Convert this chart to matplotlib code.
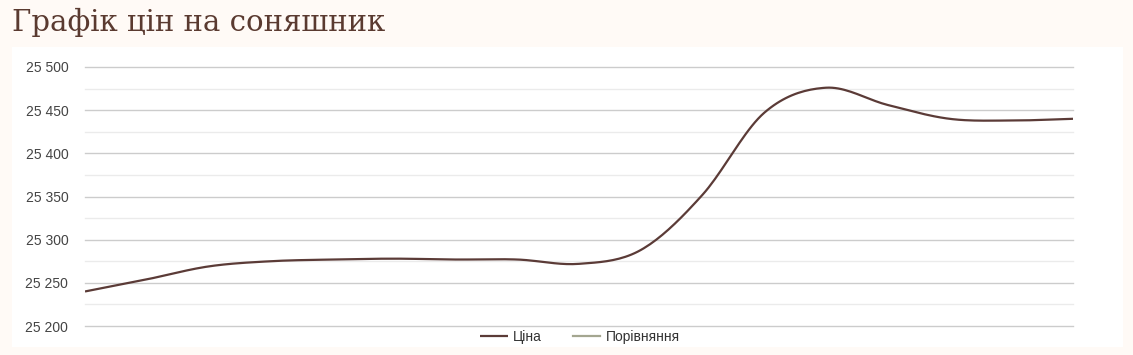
import matplotlib.pyplot as plt
from matplotlib.patches import Rectangle
from matplotlib.ticker import FuncFormatter, MultipleLocator
import numpy as np

# price points (evenly spaced dates)
price = [25240, 25254, 25269, 25275, 25277, 25278, 25277, 25277, 25272,
         25288, 25352, 25447, 25476, 25456, 25440, 25438, 25440]
y_ticks = [25200, 25250, 25300, 25350, 25400, 25450, 25500]
labels = ['Ціна', 'Порівняння']

LINE_COLOR = '#5b3b37'
CMP_COLOR = '#a4a690'
BG = '#fffaf6'


def smooth(values, steps=20):
    '''Catmull-Rom curve through the points, like the chart's "function" curve'''
    p = np.asarray(values, dtype=float)
    p = np.concatenate([[2 * p[0] - p[1]], p, [2 * p[-1] - p[-2]]])
    xs, ys = [], []
    t = np.linspace(0, 1, steps, endpoint=False)
    for i in range(1, len(p) - 2):
        p0, p1, p2, p3 = p[i - 1], p[i], p[i + 1], p[i + 2]
        y = 0.5 * ((2 * p1) + (-p0 + p2) * t
                   + (2 * p0 - 5 * p1 + 4 * p2 - p3) * t ** 2
                   + (-p0 + 3 * p1 - 3 * p2 + p3) * t ** 3)
        xs.extend(i - 1 + t)
        ys.extend(y)
    xs.append(len(values) - 1)
    ys.append(values[-1])
    return np.array(xs), np.array(ys)


fig = plt.figure(figsize=(11.33, 3.55), dpi=100)
fig.patch.set_facecolor(BG)

# white card behind the chart
fig.patches.append(Rectangle((12 / 1133, 1 - 347 / 355), 1111 / 1133, 300 / 355,
                             transform=fig.transFigure, facecolor='white',
                             edgecolor='none', zorder=-5))

fig.text(12 / 1133, 1 - 22 / 355, 'Графік цін на соняшник', fontsize=21,
         family='DejaVu Serif', color='#5a3a30', va='center', ha='left')

ax = fig.add_axes([85 / 1133, 1 - 326 / 355, 988 / 1133, 259 / 355])
ax.set_facecolor('none')
ax.set_zorder(2)

sx, sy = smooth(price)
ax.plot(sx, sy, color=LINE_COLOR, lw=1.6, label=labels[0], zorder=3,
        solid_capstyle='butt')
ax.plot([], [], color=CMP_COLOR, lw=1.6, label=labels[1])

ax.set_xlim(0, len(price) - 1)
ax.set_ylim(y_ticks[0], y_ticks[-1])
ax.set_yticks(y_ticks)
ax.yaxis.set_minor_locator(MultipleLocator(25))
ax.yaxis.set_major_formatter(FuncFormatter(lambda v, _: f'{int(v):,}'.replace(',', ' ')))
ax.grid(axis='y', which='major', color='#cccccc', lw=1)
ax.grid(axis='y', which='minor', color='#ebebeb', lw=1)
ax.set_axisbelow(True)
ax.set_xticks([])
ax.tick_params(axis='y', which='both', length=0, pad=12, labelsize=10,
               labelcolor='#444444')
for lbl in ax.get_yticklabels():
    lbl.set_family('Liberation Sans')
for s in ax.spines.values():
    s.set_visible(False)

fig.canvas.draw()
# keep the edge gridlines (25 200 / 25 500) fully visible
for tick in ax.yaxis.get_major_ticks() + ax.yaxis.get_minor_ticks():
    tick.gridline.set_clip_on(False)

leg = fig.legend(loc='center', bbox_to_anchor=(580 / 1133, 1 - 337 / 355), ncol=2,
                 frameon=False, handlelength=2.0, handletextpad=0.4,
                 columnspacing=2.2, prop={'family': 'Liberation Sans', 'size': 10})
leg.set_zorder(3)
for t in leg.get_texts():
    t.set_color('#333333')

fig.savefig('out.png', dpi=100, facecolor=BG)
